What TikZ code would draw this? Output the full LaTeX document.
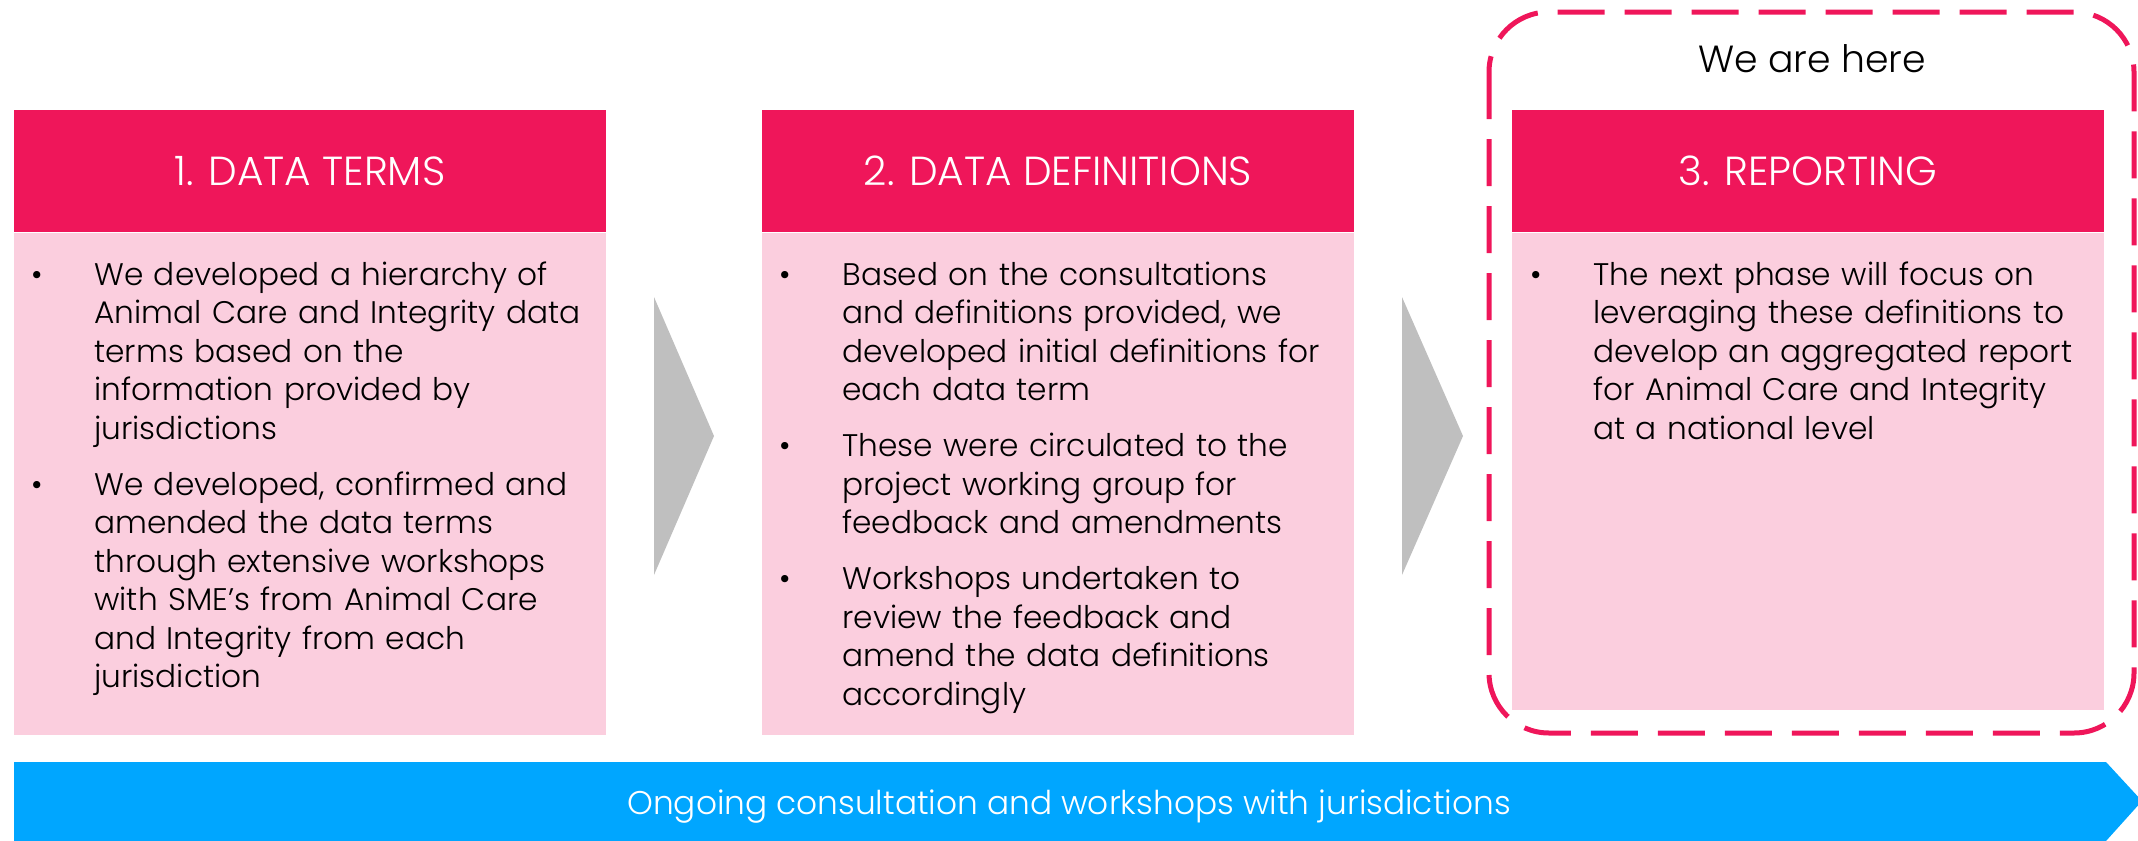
\documentclass[tikz,border=0pt]{standalone}
\usepackage{fontspec}
\setmainfont{Poppins Light}
\usetikzlibrary{positioning}
\definecolor{headpink}{RGB}{239,22,90}
\definecolor{bodypink}{RGB}{251,206,222}
\definecolor{arrowgray}{RGB}{191,191,191}
\definecolor{barblue}{RGB}{0,166,255}
\newcommand{\bitem}[1]{\noindent\makebox[31.5pt][l]{\textbullet}\parbox[t]{262pt}{\strut#1\strut}\par}
\tikzset{
  header/.style={fill=headpink, text=white, minimum width=296pt, minimum height=61pt,
    inner sep=0pt, font=\fontsize{20.3}{24}\selectfont},
  panel/.style={fill=bodypink, minimum width=296pt, inner sep=0pt},
  bullets/.style={anchor=base west, inner sep=0pt, text width=296pt,
    font=\fontsize{15.6}{19.25}\selectfont},
  chevron/.style={fill=arrowgray},
  herebox/.style={draw=headpink, line width=2.5pt, rounded corners=30pt,
    dash pattern=on 23.5pt off 10pt},
}
\begin{document}
\begin{tikzpicture}[x=0.5pt,y=-0.5pt]
    \useasboundingbox (0,0) rectangle (2138,841);

    % Phase headers
    \node[header] (h1) at (310,171) {1. DATA TERMS};
    \node[header] (h2) at (1058,171) {2. DATA DEFINITIONS};
    \node[header] (h3) at (1808,171) {3. REPORTING};

    % Phase bodies
    \node[panel, minimum height=251pt, below=0pt of h1] (b1) {};
    \node[panel, minimum height=251pt, below=0pt of h2] (b2) {};
    \node[panel, minimum height=238.5pt, below=0pt of h3] (b3) {};

    % Bullet texts
    \node[bullets] (t1) at (31,285) {%
      \bitem{We developed a hierarchy of\\ Animal Care and Integrity data\\ terms based on the\\ information provided by\\ jurisdictions}\vspace{7.75pt}
      \bitem{We developed, confirmed and\\ amended the data terms\\ through extensive workshops\\ with SME’s from Animal Care\\ and Integrity from each\\ jurisdiction}};
    \node[bullets] (t2) at (779,285) {%
      \bitem{Based on the consultations\\ and definitions provided, we\\ developed initial definitions for\\ each data term}\vspace{7.75pt}
      \bitem{These were circulated to the\\ project working group for\\ feedback and amendments}\vspace{7.75pt}
      \bitem{Workshops undertaken to\\ review the feedback and\\ amend the data definitions\\ accordingly}};
    \node[bullets] (t3) at (1530,285) {%
      \bitem{The next phase will focus on\\ leveraging these definitions to\\ develop an aggregated report\\ for Animal Care and Integrity\\ at a national level}};

    % Chevrons between phases
    \fill[chevron] (654,297) -- (714,436) -- (654,575) -- cycle;
    \fill[chevron] (1402,297) -- (1463,436) -- (1402,575) -- cycle;

    % Current phase marker
    \draw[herebox] (1489,12) rectangle (2134,733);
    \node[font=\fontsize{18.9}{22}\selectfont] (here) at (1812,59) {We are here};

    % Ongoing consultation bar
    \fill[barblue] (14,762) -- (2106,762) -- (2142,801) -- (2106,841) -- (14,841) -- cycle;
    \node[text=white, font=\fontsize{16.4}{20}\selectfont] (ongoing) at (1069,807)
      {Ongoing consultation and workshops with jurisdictions};
\end{tikzpicture}
\end{document}
